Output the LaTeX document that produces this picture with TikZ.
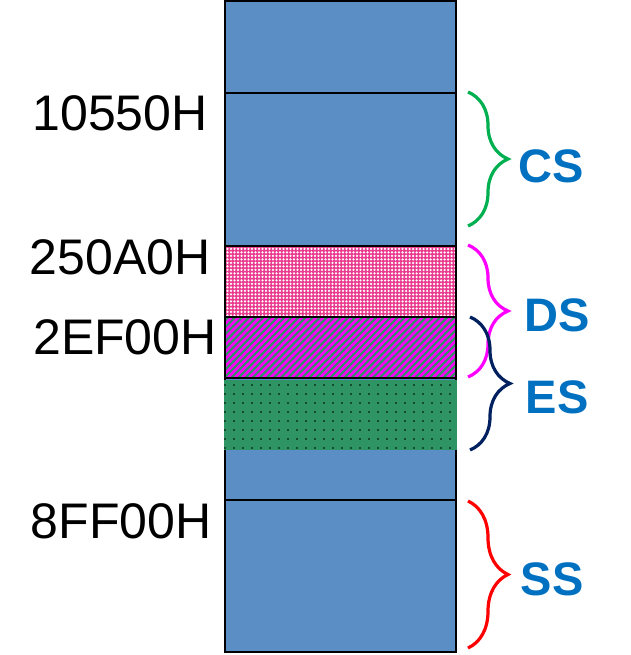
\documentclass[tikz,border=0pt]{standalone}
\usepackage{fontspec}
\setmainfont{Liberation Sans}
\usepackage{tikz}
\usetikzlibrary{calc,positioning,patterns.meta,decorations.pathreplacing}
\definecolor{SegBlue}{HTML}{5B8EC4}
\definecolor{SegGreen}{HTML}{2E9464}
\definecolor{Crimson}{HTML}{E5177A}
\definecolor{Magenta}{HTML}{FF00FF}
\definecolor{RegBlue}{HTML}{0070C0}
\definecolor{CSGreen}{HTML}{00B050}
\definecolor{Navy}{HTML}{002060}
\definecolor{SSRed}{HTML}{FF0000}
\tikzset{
  segline/.style={draw=black,line width=1.6pt},
  addr/.style={font=\fontsize{50}{60}\selectfont,inner sep=0pt},
  reg/.style={font=\fontsize{47}{56}\selectfont\bfseries,text=RegBlue,inner sep=0pt},
  curly/.style={line width=3.2pt,decorate,decoration={brace,amplitude=40pt,aspect=0.5}},
}
\begin{document}
\begin{tikzpicture}[x=1pt,y=-1pt]
\useasboundingbox (0,0) rectangle (630,655);
% memory column
\fill[SegBlue] (225,1) rectangle (456,652);
\fill[Crimson!85!white] (225,246) rectangle (456,317);
\fill[pattern={Dots[distance=3.5pt,radius=1.25pt]},pattern color=white] (225,246) rectangle (456,317);
\fill[SegGreen] (225,317) rectangle (456,378);
\fill[pattern={Lines[angle=45,distance=5pt,line width=2.6pt]},pattern color=Magenta] (225,317) rectangle (456,378);
\draw[segline] (225,1) rectangle (456,652);
\foreach \y in {93,246,317,378,500}
  \draw[segline] (225,\y) -- (456,\y);
% extra segment, no border
\fill[SegGreen] (224,379.5) rectangle (457,450);
\fill[pattern={Dots[distance=9pt,radius=0.9pt]},pattern color=black] (224,379.5) rectangle (457,450);
% base addresses
\node[addr] (csbase) at (120,113) {10550H};
\node[addr] (dsbase) at (120,257) {250A0H};
\node[addr] (esbase) at (125,337) {2EF00H};
\node[addr] (ssbase) at (121,521) {8FF00H};
% braces
\coordinate (cstop) at (468,92);
\coordinate (csbot) at (468,226);
\coordinate (dstop) at (468,245);
\coordinate (dsbot) at (468,377);
\coordinate (estop) at (470,317);
\coordinate (esbot) at (470,450);
\coordinate (sstop) at (468,501);
\coordinate (ssbot) at (468,648);
\draw[curly,CSGreen] (cstop) -- (csbot);
\draw[curly,Magenta] (dstop) -- (dsbot);
\draw[curly,Navy] (estop) -- (esbot);
\draw[curly,SSRed] (sstop) -- (ssbot);
% segment registers
\node[reg] (cs) at (551,166) {CS};
\node[reg] (ds) at (557,315) {DS};
\node[reg] (es) at (557,397) {ES};
\node[reg] (ss) at (552,579) {SS};
\end{tikzpicture}
\end{document}
